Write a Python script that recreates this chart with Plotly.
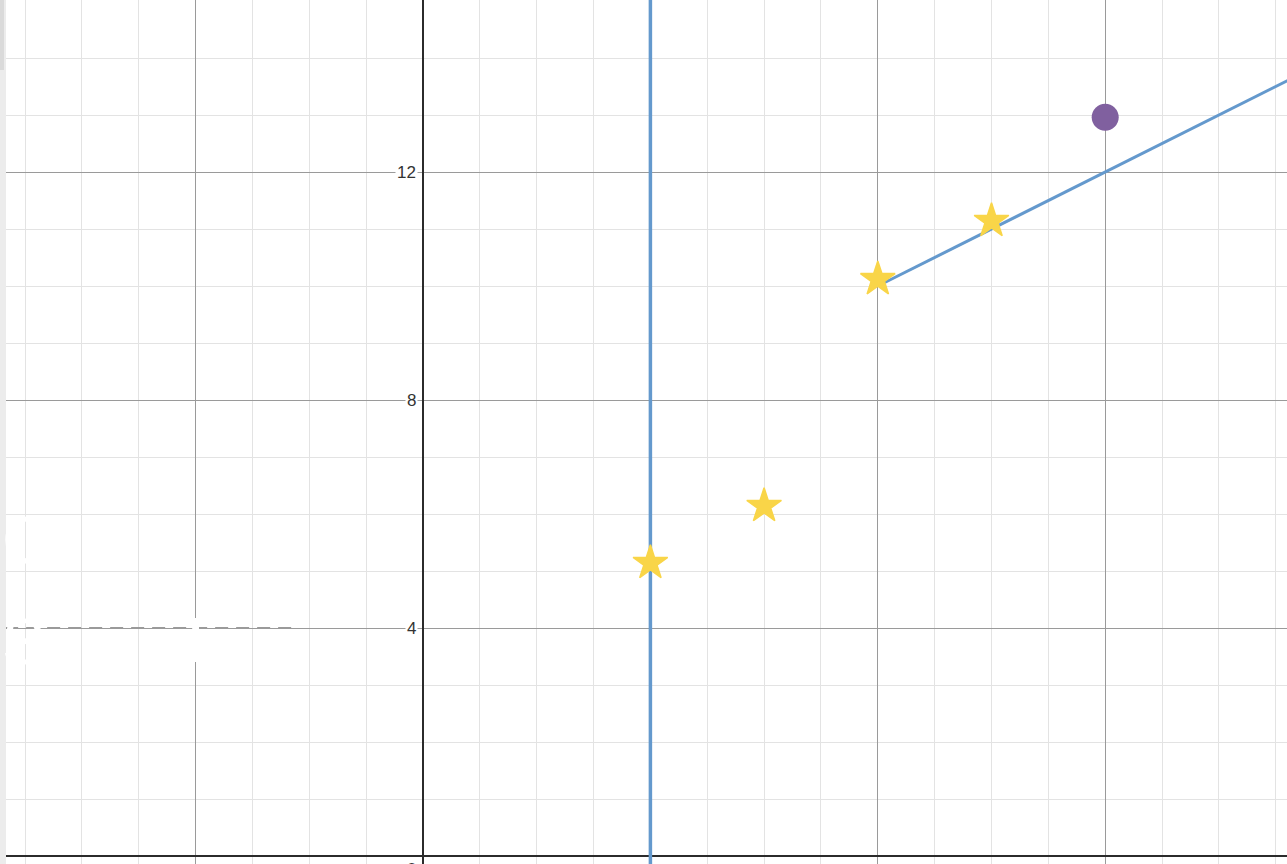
import plotly.graph_objects as go

# ---- data ----
star_x = [4, 6, 8, 10]
star_y = [5.14, 6.14, 10.12, 11.14]
dot_x = [12]
dot_y = [12.96]
ray_x = [8, 16]
ray_y = [10, 14]
vline_x = [4, 4]
vline_y = [-1, 16]
dash_x = [-7.35, -2.3]
dash_y = [4, 4]
ytick_vals = [12, 8, 4, 0]
ytick_text = ["12", "8", "4", "0"]

W, H = 1287, 864
PXX = 56.85
PXY = 57.0
X0 = -423 / PXX
X1 = (W - 423) / PXX
Y0 = -(H - 856) / PXY
Y1 = 856 / PXY

BLUE = "#6499cd"
YELLOW = "#f9d548"
PURPLE = "#80609f"

fig = go.Figure()

# white blotch (hidden white label on the left)
fig.add_shape(type="rect", x0=-4.06, x1=-3.94, y0=(856 - 662) / PXY, y1=(856 - 618) / PXY,
              fillcolor="white", line_width=0, layer="above")

fig.add_trace(go.Scatter(x=dash_x, y=dash_y, mode="lines",
                         line=dict(color="#9a9a9a", width=2, dash="13px,8px"),
                         hoverinfo="skip", showlegend=False))
fig.add_trace(go.Scatter(x=vline_x, y=vline_y, mode="lines",
                         line=dict(color=BLUE, width=3.5),
                         hoverinfo="skip", showlegend=False))
fig.add_trace(go.Scatter(x=ray_x, y=ray_y, mode="lines",
                         line=dict(color=BLUE, width=3),
                         hoverinfo="skip", showlegend=False))
fig.add_trace(go.Scatter(x=star_x, y=star_y, mode="markers",
                         marker=dict(symbol="star", size=26, color=YELLOW,
                                     line=dict(color=YELLOW, width=1.5)),
                         showlegend=False))
fig.add_trace(go.Scatter(x=dot_x, y=dot_y, mode="markers",
                         marker=dict(symbol="circle", size=27, color=PURPLE,
                                     line=dict(width=0)),
                         showlegend=False))

for v, t in zip(ytick_vals, ytick_text):
    fig.add_annotation(x=0, y=v, xref="x", yref="y", text=t, showarrow=False,
                       xanchor="right", yanchor="middle" if v else "top",
                       xshift=-5, yshift=0 if v else -2,
                       bgcolor="white", borderpad=1,
                       font=dict(family="Arial, Liberation Sans, sans-serif", size=17, color="#333333"))

# white hidden labels
fig.add_annotation(x=X0, y=(856 - 540) / PXY, text="C", showarrow=False, xanchor="left",
                   font=dict(family="Arial, Liberation Sans", size=66, color="white"))
fig.add_annotation(x=X0, y=(856 - 642) / PXY, text="S", showarrow=False, xanchor="left",
                   font=dict(family="Arial, Liberation Sans", size=64, color="white"))

# left panel shadow
fig.add_shape(type="rect", xref="paper", yref="paper", x0=0, x1=6 / W, y0=0, y1=1,
              fillcolor="#ececec", line_width=0, layer="above")
fig.add_shape(type="rect", xref="paper", yref="paper", x0=0, x1=4 / W, y0=1 - 70 / H, y1=1,
              fillcolor="#dadada", line_width=0, layer="above")

axis_common = dict(
    showticklabels=False, ticks="", dtick=4, tick0=0,
    showgrid=True, gridcolor="#9a9a9a", gridwidth=1,
    minor=dict(dtick=1, tick0=0, showgrid=True, gridcolor="#e3e3e3", gridwidth=1),
    zeroline=True, zerolinecolor="#2b2b2b", zerolinewidth=2,
    showline=False, fixedrange=True,
)
fig.update_xaxes(range=[X0, X1], **axis_common)
fig.update_yaxes(range=[Y0, Y1], **axis_common)

fig.update_layout(width=W, height=H, margin=dict(l=0, r=0, t=0, b=0),
                  plot_bgcolor="white", paper_bgcolor="white", showlegend=False)

fig.write_html("out.html", config={"displayModeBar": False},
               post_script="document.body.style.margin='0';document.body.style.overflow='hidden';")
